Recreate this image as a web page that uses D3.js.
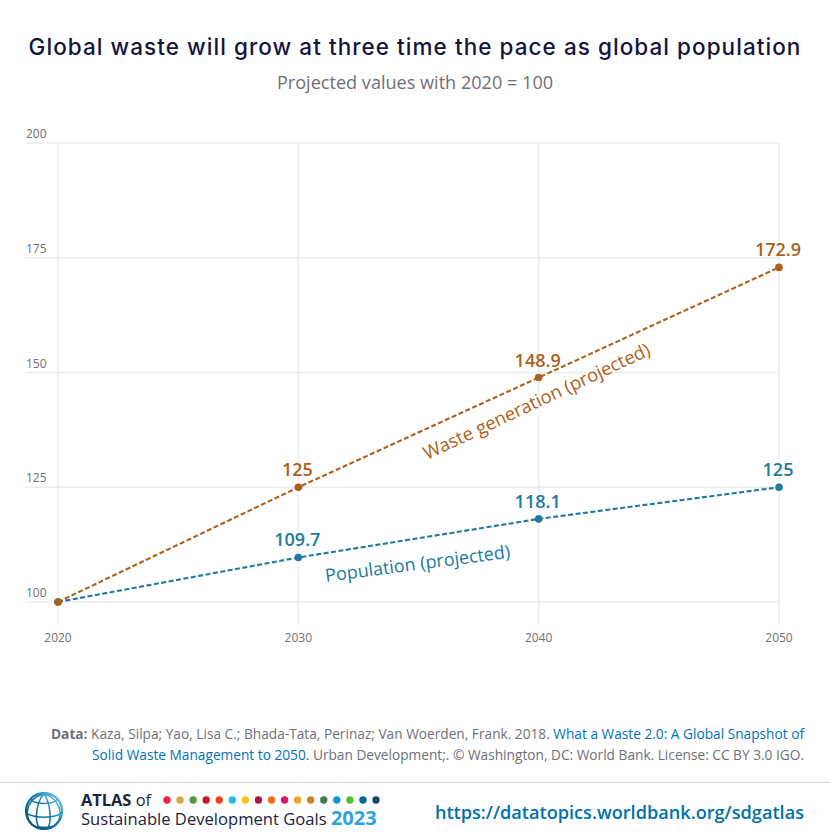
<!DOCTYPE html>
<html>
<head>
<meta charset="utf-8">
<script src="https://cdn.jsdelivr.net/npm/d3@7"></script>
<style>
  html, body { margin: 0; padding: 0; background: #fff; }
  text { font-family: "Open Sans", sans-serif; }
  a { text-decoration: none; }
</style>
</head>
<body>
<svg id="chart" width="830" height="839"></svg>
<script>
'use strict';

const years = [2020, 2030, 2040, 2050];
const wasteValues = [100, 125, 148.9, 172.9];
const populationValues = [100, 109.7, 118.1, 125];
const yTicks = [100, 125, 150, 175, 200];
const sdgColors = ['#e5243b', '#dda63a', '#4c9f38', '#c5192d', '#ff3a21', '#26bde2', '#fcc30b', '#a21942', '#fd6925',
  '#dd1367', '#fd9d24', '#bf8b2e', '#3f7e44', '#0a97d9', '#56c02b', '#00689d', '#19486a'];

const WASTE = '#ad5f1c';
const POP = '#217a9c';
const GREY = '#6f6f78';
const GRID = '#ececee';

const svg = d3.select('#chart');
const x = d3.scaleLinear().domain([2020, 2050]).range([58, 779]);
const y = d3.scaleLinear().domain([100, 200]).range([602, 143]);

/* title block */
svg.append('text').attr('x', 415).attr('y', 55).attr('text-anchor', 'middle')
  .style('font-family', 'Inter').style('font-size', '22.5px').style('font-weight', 450)
  .style('letter-spacing', '1.05px').attr('fill', '#14143c')
  .text('Global waste will grow at three time the pace as global population');
svg.append('text').attr('x', 415).attr('y', 89).attr('text-anchor', 'middle')
  .style('font-size', '18.1px').attr('fill', GREY)
  .text('Projected values with 2020 = 100');

/* axes */
const yAxis = d3.axisLeft(y).offset(0).tickValues(yTicks).tickSize(0).tickFormat(d3.format('d'));
const yg = svg.append('g').attr('transform', 'translate(26,0)').call(yAxis);
yg.select('.domain').remove();
yg.selectAll('text').attr('x', 0).attr('dy', null).attr('y', -5).attr('text-anchor', 'start')
  .style('font-size', '12px').attr('fill', GREY);
yg.selectAll('.tick').append('line').attr('x1', 0).attr('x2', 753).attr('stroke', GRID).attr('stroke-width', 1.4);

const xAxis = d3.axisBottom(x).offset(0).tickValues(years).tickSize(0).tickFormat(d3.format('d'));
const xg = svg.append('g').attr('transform', 'translate(0,625)').call(xAxis);
xg.select('.domain').remove();
xg.selectAll('text').attr('y', 8).style('font-size', '12px').attr('fill', GREY);
xg.selectAll('.tick').append('line').attr('y1', 0).attr('y2', y(200) - 625).attr('stroke', GRID).attr('stroke-width', 1.4);

/* series */
const line = d3.line().x(d => x(d.year)).y(d => y(d.value));
const series = [
  { values: populationValues, color: POP, labels: ['', '109.7', '118.1', '125'] },
  { values: wasteValues, color: WASTE, labels: ['', '125', '148.9', '172.9'] }
];
series.forEach(s => {
  const pts = years.map((year, i) => ({ year, value: s.values[i], label: s.labels[i] }));
  svg.append('path').datum(pts).attr('d', line).attr('fill', 'none')
    .attr('stroke', s.color).attr('stroke-width', 2.1).attr('stroke-dasharray', '5 2.5');
  svg.selectAll(null).data(pts).join('circle')
    .attr('cx', d => x(d.year)).attr('cy', d => y(d.value)).attr('r', 3.8).attr('fill', s.color);
  svg.selectAll(null).data(pts).join('text')
    .attr('x', d => x(d.year) - 1).attr('y', d => y(d.value) - 11).attr('text-anchor', 'middle')
    .style('font-size', '18px').style('font-weight', 600).attr('fill', s.color)
    .text(d => d.label);
});

/* line labels */
svg.append('text').attr('transform', 'translate(427,460) rotate(-25.2)')
  .style('font-size', '18.4px').attr('fill', WASTE).text('Waste generation (projected)');
svg.append('text').attr('transform', 'translate(326,582) rotate(-7.5)')
  .style('font-size', '18px').attr('fill', POP).text('Population (projected)');

/* source note */
const note1 = svg.append('text').attr('x', 804).attr('y', 739).attr('text-anchor', 'end')
  .style('font-size', '13.7px').attr('fill', GREY);
note1.append('tspan').style('font-weight', 700).text('Data: ');
note1.append('tspan').text('Kaza, Silpa; Yao, Lisa C.; Bhada-Tata, Perinaz; Van Woerden, Frank. 2018. ');
note1.append('tspan').attr('fill', '#0071bc').text('What a Waste 2.0: A Global Snapshot of');
const note2 = svg.append('text').attr('x', 804).attr('y', 760).attr('text-anchor', 'end')
  .style('font-size', '13.7px').attr('fill', GREY);
note2.append('tspan').attr('fill', '#0071bc').text('Solid Waste Management to 2050.');
note2.append('tspan').text(' Urban Development;. © Washington, DC: World Bank. License: CC BY 3.0 IGO.');

/* footer */
svg.append('line').attr('x1', 0).attr('x2', 830).attr('y1', 782.5).attr('y2', 782.5)
  .attr('stroke', '#d4d4d4').attr('stroke-width', 1.2);

const globe = d3.geoOrthographic().scale(18).translate([44, 811]).rotate([20, -20]).clipAngle(90);
const globePath = d3.geoPath(globe);
const globeGrad = svg.append('linearGradient').attr('id', 'globeGrad')
  .attr('x1', 0).attr('y1', 1).attr('x2', 1).attr('y2', 0);
globeGrad.append('stop').attr('offset', '0%').attr('stop-color', '#0b4a6e');
globeGrad.append('stop').attr('offset', '55%').attr('stop-color', '#0f7fb0');
globeGrad.append('stop').attr('offset', '100%').attr('stop-color', '#7fd0ee');
svg.append('path').datum(d3.geoGraticule().step([45, 45])()).attr('d', globePath)
  .attr('fill', 'none').attr('stroke', 'url(#globeGrad)').attr('stroke-width', 1.5);
svg.append('path').datum({ type: 'Sphere' }).attr('d', globePath)
  .attr('fill', 'none').attr('stroke', 'url(#globeGrad)').attr('stroke-width', 2.2);

const atlas = svg.append('text').attr('x', 81).attr('y', 806)
  .style('font-size', '16.4px').attr('fill', '#1c2340');
atlas.append('tspan').style('font-weight', 700).text('ATLAS');
atlas.append('tspan').text(' of');

const dotX = d3.scalePoint().domain(d3.range(sdgColors.length)).range([167, 376]);
svg.selectAll(null).data(sdgColors).join('circle')
  .attr('cx', (d, i) => dotX(i)).attr('cy', 800).attr('r', 3.7).attr('fill', d => d);

const sdgTitle = svg.append('text').attr('x', 81).attr('y', 825)
  .style('font-size', '16.6px').attr('fill', '#1c2340');
sdgTitle.append('tspan').text('Sustainable Development Goals ');
sdgTitle.append('tspan').style('font-weight', 700).attr('fill', '#2ea3e0').style('font-size', '20px').text('2023');

svg.append('text').attr('x', 804).attr('y', 819).attr('text-anchor', 'end')
  .style('font-size', '18.15px').style('font-weight', 600).attr('fill', '#0071a8')
  .text('https://datatopics.worldbank.org/sdgatlas');
</script>
</body>
</html>
